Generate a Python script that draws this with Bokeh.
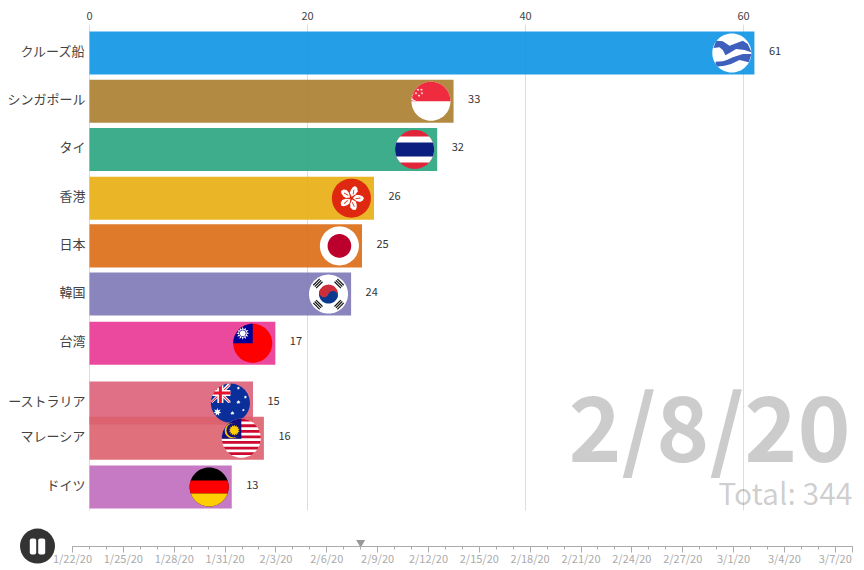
import math

from bokeh.core.properties import value as fixed
from bokeh.embed import file_html
from bokeh.models import ColumnDataSource, FixedTicker, Label, LinearAxis, Range1d
from bokeh.plotting import figure
from bokeh.resources import INLINE

# bars, top to bottom (frame of the animation at 2/8/20)
countries = ["クルーズ船", "シンガポール", "タイ", "香港", "日本", "韓国", "台湾", "ーストラリア", "マレーシア", "ドイツ"]
bar_values = [61.0, 33.4, 31.9, 26.1, 25.0, 24.0, 17.05, 15.0, 16.0, 13.05]
value_labels = ["61", "33", "32", "26", "25", "24", "17", "15", "16", "13"]
bar_ranks = [0, 1, 2, 3.01, 4, 5, 6.02, 7.26, 7.99, 9]
bar_colors = ["#0d94e5", "#aa7d2d", "#29a47e", "#e8ad0f", "#dd6b14", "#7d78b5", "#e93592",
              "#dc6179", "#dc616e", "#c06bbc"]
flags = ["ship", "sg", "th", "hk", "jp", "kr", "tw", "au", "my", "de"]

value_ticks = [0, 20, 40, 60]
date_text = "2/8/20"
total_text = "Total: 344"

# timeline
tick_labels = ["1/22/20", "1/25/20", "1/28/20", "1/31/20", "2/3/20", "2/6/20", "2/9/20", "2/12/20",
               "2/15/20", "2/18/20", "2/21/20", "2/24/20", "2/27/20", "3/1/20", "3/4/20", "3/7/20"]
tick_days = [0, 3, 6, 9, 12, 15, 18, 21, 24, 27, 30, 33, 36, 39, 42, 45]
last_day = 46
current_day = 17

FONT = "Noto Sans CJK JP"
WIDTH, HEIGHT = 864, 570
FRAME_TOP = 24
X0_PX, RANK0_PX = 89, 52.5   # where value 0 and rank 0 sit on the page
DAY0_PX, STRIP0_PX = 72, 546  # where day 0 and the timeline line sit
PX_X = 10.9     # px per value unit
PX_Y = 48.22    # px per rank
PX_DAY = 16.95  # px per day on the timeline
R = 19.5        # flag radius


def disc(r=R, cx=0.0, cy=0.0, n=72):
    return [(cx + r * math.cos(2 * math.pi * i / n), cy + r * math.sin(2 * math.pi * i / n)) for i in range(n)]


def box(x0, y0, x1, y1):
    return [(x0, y0), (x1, y0), (x1, y1), (x0, y1)]


def star(cx, cy, r, points=5, inner=0.4, rot=90):
    out = []
    for i in range(points * 2):
        a = math.radians(rot + i * 180 / points)
        rr = r if i % 2 == 0 else r * inner
        out.append((cx + rr * math.cos(a), cy + rr * math.sin(a)))
    return out


def turn(poly, deg, cx=0.0, cy=0.0):
    a = math.radians(deg)
    return [(cx + x * math.cos(a) - y * math.sin(a), cy + x * math.sin(a) + y * math.cos(a)) for x, y in poly]


# Sutherland-Hodgman against the (convex) flag circle
def clip(poly):
    edge = disc()
    out = poly
    for i in range(len(edge)):
        ax, ay = edge[i]
        bx, by = edge[(i + 1) % len(edge)]
        side = lambda p: (bx - ax) * (p[1] - ay) - (by - ay) * (p[0] - ax)
        cur, out = out, []
        for j in range(len(cur)):
            p, q = cur[j], cur[(j + 1) % len(cur)]
            d1, d2 = side(p), side(q)
            if (d1 >= 0) != (d2 >= 0):
                t = d1 / (d1 - d2)
                out.append((p[0] + t * (q[0] - p[0]), p[1] + t * (q[1] - p[1])))
            if d2 >= 0:
                out.append(q)
        if not out:
            return []
    return out


def ship_flag():
    top = [(-15.7, 12.3), (-9, 11.7), (-2.3, 7.3), (4.3, 9.7), (11, 12.3), (16, 9), (19.7, 0.7), (12.7, 3), (4.3, 4),
           (-2.3, 0), (-6.3, -2.3), (-9, 3), (-12.3, 5.7), (-18.3, 5)]
    low = [(19.7, -1), (11, -1), (1, -4.3), (-5, -7), (-9, -8.3), (-16.3, -8.7), (-15.7, -13.7), (-7.3, -12.7),
           (-0.7, -11), (7.7, -7), (17, -9.3)]
    return [("#ffffff", disc()), ("#3f5fbd", top), ("#3f5fbd", low)]


def sg_flag():
    out = [("#ffffff", disc()), ("#ef2b3f", box(-20, 0, 20, 20))]
    out.append(("#ffffff", disc(3.2, -17, 3.5, 24)))
    out.append(("#ef2b3f", disc(3, -15.8, 4, 24)))
    for x, y in [(-13, 11.5), (-9.5, 11.5), (-15, 8), (-9, 8), (-12, 5.5)]:
        out.append(("#ffffff", star(x, y, 1.5)))
    return out


def th_flag():
    return [("#e0243a", disc()), ("#ffffff", box(-20, -13, 20, 13)), ("#0a1f80", box(-20, -7, 20, 7))]


def hk_flag():
    petal = [(0, 1.5), (3.5, 4.5), (5, 8), (4, 11), (1.5, 12.5), (-0.5, 11), (-2, 8), (-2.5, 5)]
    out = [("#de2910", disc())]
    for k in range(5):
        out.append(("#ffffff", turn(petal, 72 * k - 10)))
        out.append(("#de2910", turn([(0.6, 4), (1.4, 4), (1.5, 9), (0.7, 9)], 72 * k - 10)))
    return out


def jp_flag():
    return [("#ffffff", disc()), ("#bc002d", disc(11.8))]


def kr_flag():
    out = [("#ffffff", disc())]
    tilt = -20
    out.append(("#cd2e3a", turn([(9.5 * math.cos(math.radians(a)), 9.5 * math.sin(math.radians(a)))
                                 for a in range(0, 181, 5)], tilt)))
    out.append(("#0a3a90", turn([(9.5 * math.cos(math.radians(a)), 9.5 * math.sin(math.radians(a)))
                                 for a in range(180, 361, 5)], tilt)))
    out.append(("#cd2e3a", turn(disc(4.75, -4.75, 0, 24), tilt)))
    out.append(("#0a3a90", turn(disc(4.75, 4.75, 0, 24), tilt)))
    for angle in [45, 135, 225, 315]:
        for d in [13, 15, 17]:
            out.append(("#111111", turn(box(d - 0.6, -4.5, d + 0.6, 4.5), angle)))
    return out


def tw_flag():
    return [("#fe0000", disc()), ("#000095", box(-20, 0, 0, 20)), ("#ffffff", star(-10, 10, 6.5, 12, 0.6)),
            ("#000095", disc(3.6, -10, 10, 24)), ("#ffffff", disc(3, -10, 10, 24))]


def au_flag():
    out = [("#0a2f9a", disc())]
    diag = [(-20, 1.5), (-18, 0), (0, 17), (0, 20), (-2, 20)]
    anti = [(-20, 17), (-2, 0), (0, 0), (0, 2), (-18, 20), (-20, 20)]
    out += [("#ffffff", diag), ("#ffffff", anti)]
    out += [("#e8112d", [(-20, 0.5), (-19, 0), (0, 18.5), (0, 19.5)]),
            ("#e8112d", [(-20, 18.5), (-0.5, 0), (0, 0.5), (-19.5, 20)])]
    out += [("#ffffff", box(-20, 7, 0, 13)), ("#ffffff", box(-13, 0, -7, 20))]
    out += [("#e8112d", box(-20, 8.5, 0, 11.5)), ("#e8112d", box(-11.5, 0, -8.5, 20))]
    out.append(("#ffffff", star(-13, -9, 4.2, 7, 0.45)))
    for x, y, r in [(8, 1, 2.3), (2, -10, 2.3), (15, 6, 1.8), (8, 15, 1.8), (13, -7, 1.6)]:
        out.append(("#ffffff", star(x, y, r, 7, 0.45)))
    return out


def my_flag():
    out = [("#ffffff", disc())]
    h = 39.0 / 14
    for i in range(7):
        y1 = 19.5 - 2 * i * h
        out.append(("#cc0a2f", box(-20, y1 - h, 20, y1)))
    out.append(("#10107f", box(-20, -0.5, 0, 20)))
    out.append(("#ffcc00", disc(7.5, -9, 7.5, 32)))
    out.append(("#10107f", disc(7.2, -7.6, 8, 32)))
    out.append(("#ffcc00", star(-7, 8, 5.5, 14, 0.7)))
    return out


def de_flag():
    return [("#000000", disc()), ("#ff0000", box(-20, -6.5, 20, 6.5)), ("#ffce00", box(-20, -20, 20, -6.5))]


flag_makers = {"ship": ship_flag, "sg": sg_flag, "th": th_flag, "hk": hk_flag, "jp": jp_flag,
               "kr": kr_flag, "tw": tw_flag, "au": au_flag, "my": my_flag, "de": de_flag}

# flag pieces, placed at the end of each bar
flag_xs, flag_ys, flag_fill = [], [], []
for val, rank, name in zip(bar_values, bar_ranks, flags):
    for color, poly in flag_makers[name]():
        poly = clip(poly)
        if len(poly) < 3:
            continue
        flag_xs.append([val + (x - 22.6) / PX_X for x, y in poly])
        flag_ys.append([rank - y / PX_Y for x, y in poly])
        flag_fill.append(color)

bar_source = ColumnDataSource(data={
    "rank": bar_ranks,
    "value": bar_values,
    "label": value_labels,
    "color": bar_colors,
})

rank_top = (FRAME_TOP - RANK0_PX) / PX_Y
rank_bottom = (HEIGHT - RANK0_PX) / PX_Y
grid_bottom = (510 - RANK0_PX) / PX_Y

p = figure(width=WIDTH, height=HEIGHT, output_backend="svg", toolbar_location=None, x_axis_location="above",
           x_range=Range1d(-X0_PX / PX_X, (WIDTH - X0_PX) / PX_X), y_range=Range1d(rank_bottom, rank_top),
           min_border_left=0, min_border_right=0, min_border_top=FRAME_TOP, min_border_bottom=0)
p.outline_line_color = None
p.background_fill_color = "#ffffff"
p.grid.visible = False

for ax in [p.xaxis, p.yaxis]:
    ax.axis_line_color = None
    ax.major_tick_line_color = None
    ax.minor_tick_line_color = None
    ax.major_tick_in = 0
    ax.major_tick_out = 0
    ax.minor_tick_in = 0
    ax.minor_tick_out = 0
    ax.major_label_text_font = FONT
    ax.major_label_text_color = "#444444"

p.xaxis.ticker = FixedTicker(ticks=value_ticks)
p.xaxis.major_label_text_font_size = "11px"
p.xaxis.major_label_standoff = 5

# the country labels sit a little above the bar centres
label_ticks = [round(r - 2.5 / PX_Y, 3) for r in bar_ranks]
p.yaxis.fixed_location = 0
p.yaxis.ticker = FixedTicker(ticks=label_ticks)
p.yaxis.major_label_overrides = dict(zip(label_ticks, countries))
p.yaxis.major_label_text_font_size = "13px"
p.yaxis.major_label_standoff = 4

# gridlines stop above the timeline
p.segment(x0=value_ticks, x1=value_ticks, y0=[rank_top] * 4, y1=[grid_bottom] * 4, line_color="#dddddd", line_width=1)

p.add_layout(Label(x=850, y=148, x_units="screen", y_units="screen", text=date_text, text_align="right",
                   text_baseline="alphabetic", text_font=FONT, text_font_style="bold", text_font_size="90px",
                   text_color="#000000", text_alpha=0.2))
p.add_layout(Label(x=852, y=79, x_units="screen", y_units="screen", text=total_text, text_align="right",
                   text_baseline="alphabetic", text_font=FONT, text_font_size="30px",
                   text_color="#000000", text_alpha=0.2))

p.hbar(y="rank", left=0, right="value", height=0.892, source=bar_source, fill_color="color", fill_alpha=0.9,
       line_color=None)
p.patches(flag_xs, flag_ys, fill_color=flag_fill, line_color=None)
p.text(x="value", y="rank", text="label", source=bar_source, x_offset=14.5, y_offset=-2, text_baseline="middle",
       text_font=fixed(FONT), text_font_size="11px", text_color="#333333")

# timeline strip, on its own ranges (days across, px up from the line)
p.extra_x_ranges["days"] = Range1d(-DAY0_PX / PX_DAY, (WIDTH - DAY0_PX) / PX_DAY)
p.extra_y_ranges["strip"] = Range1d(STRIP0_PX - HEIGHT, STRIP0_PX - FRAME_TOP)

time_axis = LinearAxis(x_range_name="days", y_range_name="strip", fixed_location=0, bounds=(0, last_day))
time_axis.ticker = FixedTicker(ticks=tick_days + [last_day], minor_ticks=list(range(last_day + 1)))
time_axis.major_label_overrides = {**dict(zip(tick_days, tick_labels)), last_day: ""}
time_axis.axis_line_color = "#aaaaaa"
time_axis.major_tick_line_color = "#aaaaaa"
time_axis.minor_tick_line_color = "#aaaaaa"
time_axis.major_tick_in = 0
time_axis.major_tick_out = 6
time_axis.minor_tick_in = 0
time_axis.minor_tick_out = 3
time_axis.major_label_standoff = -3
time_axis.major_label_text_font = FONT
time_axis.major_label_text_font_size = "11px"
time_axis.major_label_text_color = "#aaaaaa"
p.add_layout(time_axis, "below")

p.scatter([current_day], [4], marker="inverted_triangle", size=9, fill_color="#999999", line_color=None,
          x_range_name="days", y_range_name="strip")

# pause button
button_day = (37 - DAY0_PX) / PX_DAY
p.scatter([button_day], [0.4], marker="circle", size=35, fill_color="#333333", line_color=None,
          x_range_name="days", y_range_name="strip")
p.quad(left=[button_day - 7.7 / PX_DAY, button_day + 0.7 / PX_DAY],
       right=[button_day - 1.3 / PX_DAY, button_day + 7.7 / PX_DAY],
       bottom=[-8, -8], top=[8, 8], fill_color="#ffffff", line_color=None, border_radius=2,
       x_range_name="days", y_range_name="strip")

open("out.html", "w").write(file_html(p, INLINE))
